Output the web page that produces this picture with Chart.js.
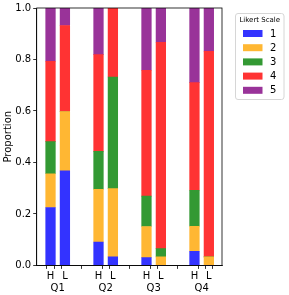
<!DOCTYPE html>
<html>
<head>
<meta charset="utf-8">
<script src="https://cdn.jsdelivr.net/npm/chart.js@4/dist/chart.umd.min.js"></script>
<style>
  html, body { margin: 0; padding: 0; background: #fff; }
  #wrap { width: 289px; height: 295px; }
</style>
</head>
<body>
<div id="wrap"><canvas id="likertChart"></canvas></div>
<script>
// --- Data ---
const questions = ['Q1', 'Q2', 'Q3', 'Q4'];
const levels = ['H', 'L'];
const likertLabels = ['1', '2', '3', '4', '5'];
// order: Q1-H, Q1-L, Q2-H, Q2-L, Q3-H, Q3-L, Q4-H, Q4-L
const score1 = [0.225, 0.367, 0.091, 0.033, 0.030, 0.000, 0.055, 0.000];
const score2 = [0.131, 0.231, 0.205, 0.265, 0.121, 0.033, 0.097, 0.033];
const score3 = [0.125, 0.000, 0.147, 0.434, 0.118, 0.032, 0.140, 0.000];
const score4 = [0.312, 0.334, 0.376, 0.268, 0.489, 0.802, 0.418, 0.799];
const score5 = [0.207, 0.068, 0.181, 0.000, 0.242, 0.133, 0.290, 0.168];
const yTicks = [0, 0.2, 0.4, 0.6, 0.8, 1.0];

const colors = ['#3333ff', '#ffb733', '#339933', '#ff3333', '#993399'];
const FONT = 'DejaVu Sans';

// bar positions on the x scale: question index + offset for L
const levelOffset = 0.3;
const barX = [];
questions.forEach((q, i) => levels.forEach((l, j) => barX.push(i + j * levelOffset)));

// ticks: H, middle (question name on second line), L
const xTickValues = [];
const xTickLabels = [];
questions.forEach((q, i) => {
    xTickValues.push(i, i + levelOffset / 2, i + levelOffset);
    xTickLabels.push(levels[0], ['', q], levels[1]);
});

const series = [score1, score2, score3, score4, score5];
const datasets = series.map((vals, k) => ({
    label: likertLabels[k],
    data: vals.map((v, i) => ({ x: barX[i], y: v })),
    backgroundColor: colors[k],
    borderWidth: 0,
    barThickness: 9.6
}));

// --- Frame + legend box ---
const framePlugin = {
    id: 'frame',
    afterDraw(chart) {
        const { ctx, chartArea: a } = chart;
        ctx.save();
        ctx.strokeStyle = '#000';
        ctx.lineWidth = 0.8;
        ctx.strokeRect(a.left, a.top, a.right - a.left, a.bottom - a.top);

        // legend
        const lx = 235.5, ly = 13.5, lw = 48.5, lh = 86;
        ctx.fillStyle = 'rgba(255,255,255,0.8)';
        ctx.strokeStyle = '#d6d6d6';
        ctx.lineWidth = 1;
        ctx.beginPath();
        ctx.roundRect(lx, ly, lw, lh, 2.5);
        ctx.fill();
        ctx.stroke();

        ctx.fillStyle = '#000';
        ctx.textAlign = 'center';
        ctx.textBaseline = 'middle';
        ctx.font = `7px "${FONT}"`;
        ctx.fillText('Likert Scale', lx + lw / 2, 20.5);

        ctx.font = `10px "${FONT}"`;
        ctx.textAlign = 'left';
        chart.data.datasets.forEach((ds, k) => {
            const cy = 33.5 + k * 14.2;
            ctx.fillStyle = ds.backgroundColor;
            ctx.fillRect(243, cy - 3.5, 19.5, 7);
            ctx.fillStyle = '#000';
            ctx.fillText(ds.label, 270, cy + 0.5);
        });
        ctx.restore();
    }
};

new Chart(document.getElementById('likertChart'), {
    type: 'bar',
    data: { datasets },
    options: {
        responsive: true,
        maintainAspectRatio: false,
        animation: false,
        layout: { padding: { left: 0, right: 67, top: 8, bottom: 0 } },
        plugins: {
            legend: { display: false },
            tooltip: { enabled: false }
        },
        scales: {
            x: {
                type: 'linear',
                stacked: true,
                offset: false,
                min: -0.288,
                max: 3.574,
                afterBuildTicks: (scale) => {
                    scale.ticks = xTickValues.map(v => ({ value: v }));
                },
                afterFit: (scale) => { scale.height = 29.6; },
                ticks: {
                    autoSkip: false,
                    maxRotation: 0,
                    padding: 2,
                    color: '#000',
                    font: { family: FONT, size: 10 },
                    callback: (value, index) => xTickLabels[index]
                },
                grid: { display: true, drawOnChartArea: false, drawTicks: true, tickLength: 3.5, color: '#000', lineWidth: 0.8 },
                border: { display: true, color: '#000', width: 0.8 }
            },
            y: {
                stacked: true,
                min: 0,
                max: 1,
                afterBuildTicks: (scale) => {
                    scale.ticks = yTicks.map(v => ({ value: v }));
                },
                afterFit: (scale) => { scale.width = 36.7; },
                title: {
                    display: true,
                    text: 'Proportion',
                    color: '#000',
                    font: { family: FONT, size: 10 },
                    padding: { top: 2, bottom: 0 }
                },
                ticks: {
                    padding: 2,
                    color: '#000',
                    font: { family: FONT, size: 10 },
                    callback: (v) => v.toFixed(1)
                },
                grid: { display: true, drawOnChartArea: false, drawTicks: true, tickLength: 3.5, color: '#000', lineWidth: 0.8 },
                border: { display: true, color: '#000', width: 0.8 }
            }
        }
    },
    plugins: [framePlugin]
});
</script>
</body>
</html>
